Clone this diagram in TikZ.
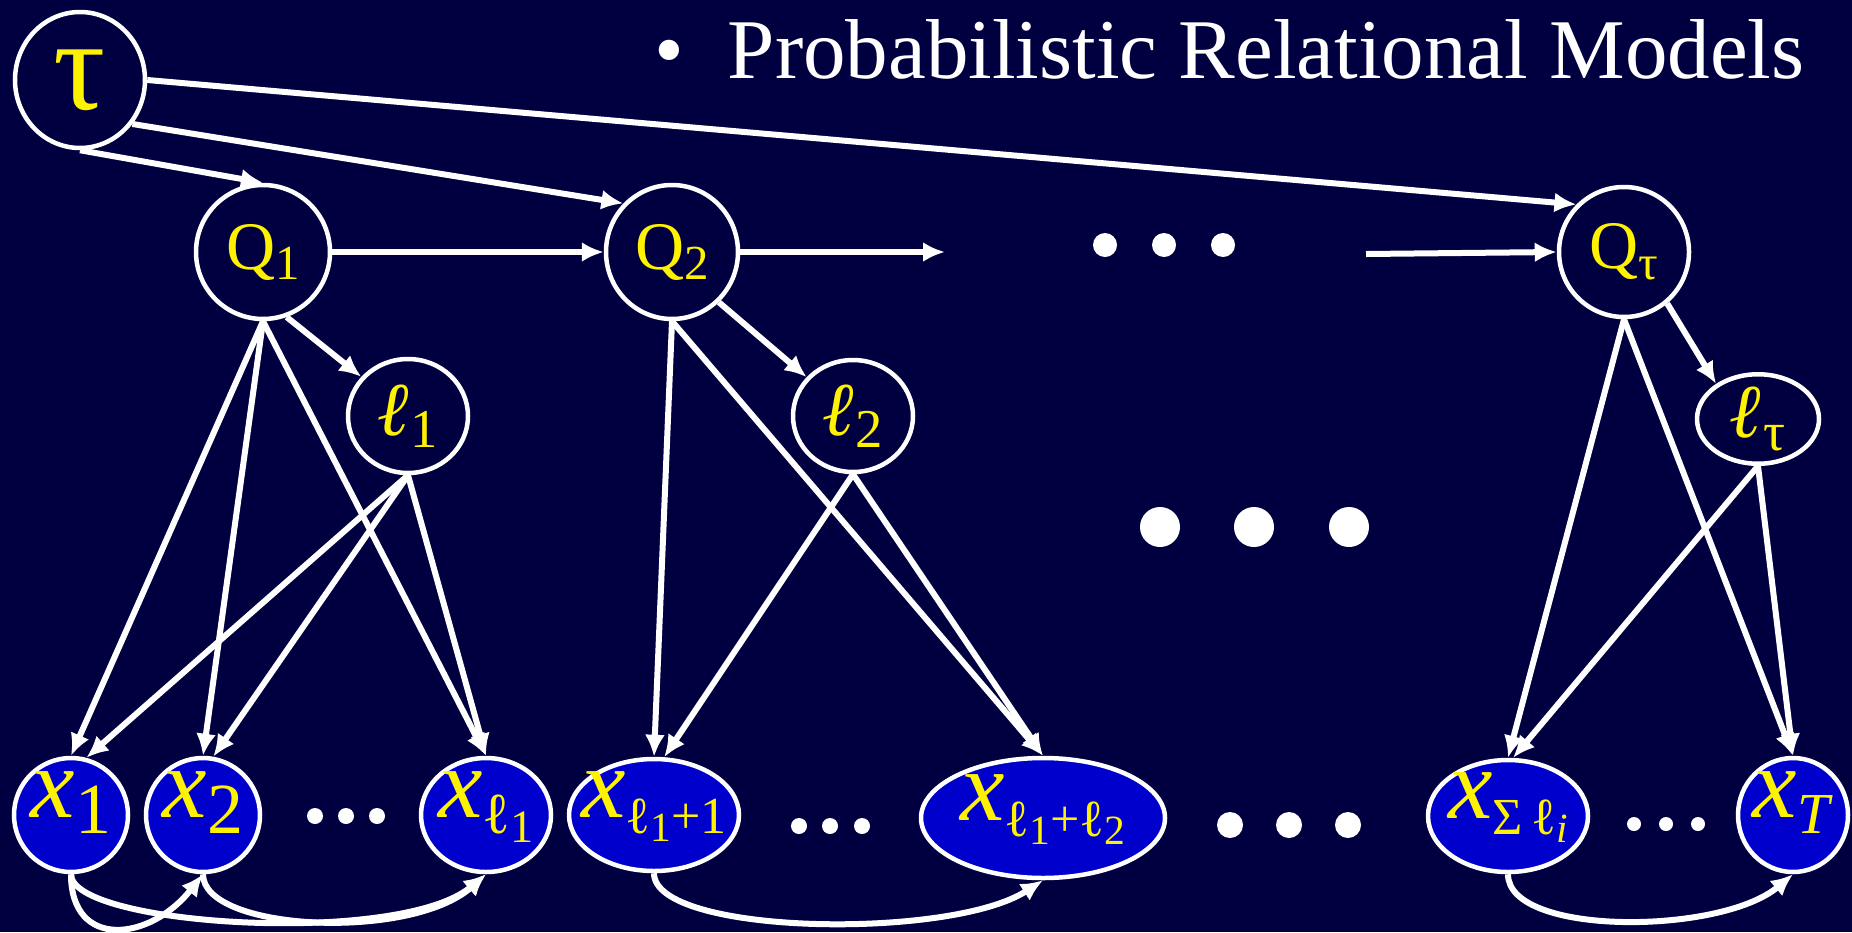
\documentclass[tikz,border=0pt]{standalone}
\usepackage{fontspec}
\setmainfont{Liberation Serif}
\usepackage{graphicx}
\usetikzlibrary{shapes.geometric,arrows.meta,calc}
\definecolor{navy}{RGB}{0,0,64}
\definecolor{nodeblue}{RGB}{0,0,204}
\newcommand{\lo}[2][0.72]{\raisebox{-0.16em}{\scalebox{#1}{#2}}}
\newcommand{\xlab}[1]{\makebox[0pt]{\textit{x}#1}}

\begin{document}
\begin{tikzpicture}[x=1pt,y=-1pt,
  hid/.style={ellipse,draw=white,line width=4.5pt,text=yellow,inner sep=0pt},
  obs/.style={hid,fill=nodeblue,font=\fontsize{100}{100}\selectfont,text height=0.45em,text depth=0.05em},
  link/.style={draw=white,line width=6pt,-{Latex[length=22pt,width=20pt]}}]

% fond
\fill[navy] (0,0) rectangle (1852,932);
\useasboundingbox (0,0) rectangle (1852,932);

% titre
\node[anchor=base west,inner sep=0pt,text=white,font=\fontsize{85}{90}\selectfont] (title) at (654,78) {•\hspace{44pt}Probabilistic Relational Models};

% noeuds caches
\node[hid,minimum width=130pt,minimum height=136pt,font=\fontsize{130}{130}\selectfont] (tau) at (80,80) {τ};
\node[hid,minimum width=134pt,minimum height=134pt,font=\fontsize{68}{68}\selectfont] (Q1) at (263,252) {Q\lo{1}};
\node[hid,minimum width=132pt,minimum height=134pt,font=\fontsize{68}{68}\selectfont] (Q2) at (672,252) {Q\lo{2}};
\node[hid,minimum width=130pt,minimum height=130pt,font=\fontsize{68}{68}\selectfont] (Qtau) at (1624,252) {Q\lo{τ}};
\node[hid,minimum width=120pt,minimum height=114pt,font=\fontsize{76}{76}\selectfont] (l1) at (408,416) {\textbf{\textit{ℓ}}\lo{1}};
\node[hid,minimum width=120pt,minimum height=112pt,font=\fontsize{76}{76}\selectfont] (l2) at (853,416) {\textbf{\textit{ℓ}}\lo{2}};
\node[hid,minimum width=122pt,minimum height=88pt,font=\fontsize{76}{76}\selectfont] (ltau) at (1758,419) {\textbf{\textit{ℓ}}\lo{τ}};

% noeuds observes
\node[obs,minimum width=114pt,minimum height=114pt] (x1) at (71,815) {\xlab{\lo{1}}};
\node[obs,minimum width=114pt,minimum height=114pt] (x2) at (203,815) {\xlab{\lo{2}}};
\node[obs,minimum width=130pt,minimum height=114pt] (xl1) at (486,815) {\xlab{\lo[0.58]{ℓ\lo[0.8]{1}}}};
\node[obs,minimum width=170pt,minimum height=112pt] (xA) at (654,815) {\xlab{\lo[0.52]{ℓ\lo[0.8]{1}+1}}};
\node[obs,minimum width=244pt,minimum height=120pt] (xB) at (1043,818) {\xlab{\lo[0.52]{ℓ\lo[0.8]{1}+ℓ\lo[0.8]{2}}}};
\node[obs,minimum width=160pt,minimum height=112pt] (xS) at (1508,816) {\xlab{\lo[0.52]{Σ\,ℓ\lo[0.8]{\textit{i}}}}};
\node[obs,minimum width=110pt,minimum height=114pt] (xT) at (1793,815) {\xlab{\lo[0.58]{\textit{T}}}};

% points de suspension
\foreach \x/\y/\r in {
1105/245/12,1164/245/12,1223/245/12,
1160/527/20,1254/527/20,1349/527/20,
1230/825/13,1289/825/13,1348/825/13,
315/816/8,346/816/8,377/816/8,
799/826/8,830/826/8,862/826/8,
1634/824/7,1666/824/7,1698/824/7
}
{
\fill[white] (\x,\y) circle (\r);
}

\coordinate (gapin) at (945,252);
\coordinate (gapout) at (1366,254);

% arcs du haut
\draw[link] (tau.south) -- (Q1.north);
\draw[link] (tau.-40) -- (Q2.135);
\draw[link] (tau.east) -- (Qtau.135);
\draw[link] (Q1.east) -- (Q2.west);
\draw[link] (Q2.east) -- (gapin);
\draw[link] (gapout) -- (Qtau.west);

% premier bloc
\draw[link] (Q1.-70) -- (l1.140);
\foreach \t in {x1,x2,xl1}
{
\draw[link] (Q1.south) -- (\t.north);
}
\draw[link] (l1.south) -- (x1.75);
\draw[link] (l1.south) -- (x2.80);
\draw[link] (l1.south) -- (xl1.north);

% deuxieme bloc
\draw[link] (Q2.-47) -- (l2.140);
\draw[link] (Q2.south) -- (xA.north);
\draw[link] (Q2.south) -- (xB.north);
\draw[link] (l2.south) -- (xA.80);
\draw[link] (l2.south) -- (xB.north);

% dernier bloc
\draw[link] (Qtau.-50) -- (ltau.140);
\draw[link] (Qtau.south) -- (xS.north);
\draw[link] (Qtau.south) -- (xT.north);
\draw[link] (ltau.south) -- (xS.85);
\draw[link] (ltau.south) -- (xT.north);

% arcs du bas
\draw[link] (x1.south) .. controls ($(x1.south)+(0,76)$) and ($(x2.south)+(-53,67)$) .. (x2.south);
\draw[link] (x1.south) .. controls ($(x1.south)+(0,52)$) and ($(xl1.south)+(-86,72)$) .. (xl1.south);
\draw[link] (x2.south) .. controls ($(x2.south)+(0,57)$) and ($(xl1.south)+(-76,67)$) .. (xl1.south);
\draw[link] (xA.south) .. controls ($(xA.south)+(0,62)$) and ($(xB.south)+(-93,60)$) .. (xB.south);
\draw[link] (xS.south) .. controls ($(xS.south)+(0,62)$) and ($(xT.south)+(-73,61)$) .. (xT.south);

\end{tikzpicture}
\end{document}
